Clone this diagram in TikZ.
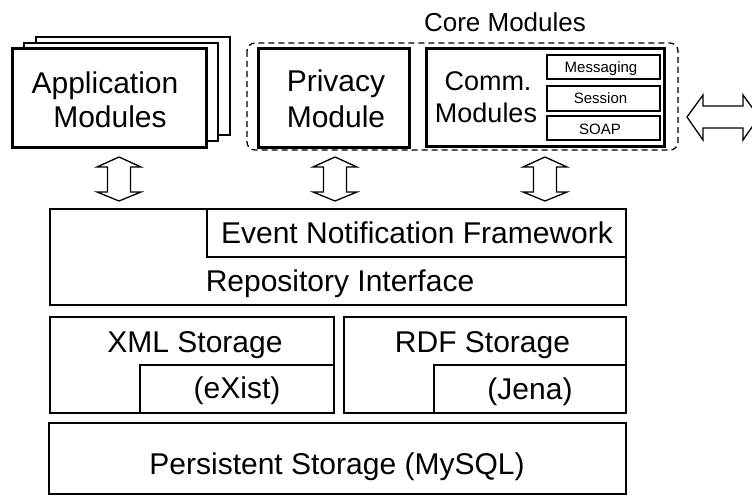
\documentclass[tikz,border=0pt]{standalone}
\usepackage{fontspec}
\setmainfont{Liberation Sans}
\begin{document}
\begin{tikzpicture}[x=1pt,y=-1pt,
  thickbox/.style={draw=black,line width=3pt,fill=white,rectangle,inner sep=0pt,outer sep=0pt},
  sheet/.style={draw=black,line width=2pt,fill=white,rectangle,inner sep=0pt,outer sep=0pt},
  midbox/.style={draw=black,line width=2.6pt,fill=white,rectangle,inner sep=0pt,outer sep=0pt},
  subbox/.style={draw=black,line width=1.6pt,fill=white,rectangle,inner sep=0pt,outer sep=0pt},
  group/.style={draw=black,line width=1.3pt,dash pattern=on 6pt off 4pt,rounded corners=8pt},
  bigtxt/.style={font=\fontsize{30}{36}\selectfont,anchor=base,inner sep=0pt},
  medtxt/.style={font=\fontsize{27}{32}\selectfont,anchor=base,inner sep=0pt},
  coretxt/.style={font=\fontsize{26}{31}\selectfont,anchor=base,inner sep=0pt},
  smalltxt/.style={font=\fontsize{15}{18}\selectfont,anchor=base,inner sep=0pt},
  dblarrow/.style={draw=black,line width=1.3pt,fill=white,line join=miter}]
\clip (0,0) rectangle (752,495);
\useasboundingbox (0,0) rectangle (752,495);

% Application modules stack
\node[sheet,minimum width=194pt,minimum height=98pt] (sheetB) at (133,86) {};
\node[sheet,minimum width=194pt,minimum height=98pt] (sheetA) at (121,92) {};
\node[thickbox,minimum width=194pt,minimum height=98pt] (app) at (109,98) {};
\node[bigtxt] (appt1) at (105,93) {Application};
\node[bigtxt] (appt2) at (110,127) {Modules};

% Core modules group
\draw[group] (247,43) rectangle (678,150);
\node[coretxt] (coret) at (505,32) {Core Modules};

\node[thickbox,minimum width=151pt,minimum height=98pt] (priv) at (333.5,98) {};
\node[bigtxt] (privt1) at (336,92) {Privacy};
\node[bigtxt] (privt2) at (336,127) {Module};

\node[thickbox,minimum width=238pt,minimum height=97pt] (comm) at (545,97.5) {};
\node[medtxt] (commt1) at (488,90) {Comm.};
\node[medtxt] (commt2) at (486,122) {Modules};
\node[subbox,minimum width=113pt,minimum height=24pt] (msg) at (603.5,67) {};
\node[subbox,minimum width=113pt,minimum height=25pt] (sess) at (603.5,98.5) {};
\node[subbox,minimum width=113pt,minimum height=24pt] (soap) at (603.5,128) {};
\node[smalltxt] (msgt) at (601,73) {Messaging};
\node[smalltxt] (sesst) at (600.5,103) {Session};
\node[smalltxt] (soapt) at (600,134) {SOAP};

% Repository interface
\node[midbox,minimum width=576pt,minimum height=96pt] (repo) at (338,257) {};
\node[midbox,minimum width=419pt,minimum height=48pt] (event) at (416.5,233) {};
\node[bigtxt] (eventt) at (417,243) {Event Notification Framework};
\node[bigtxt] (repot) at (340,291) {Repository Interface};

% Storage
\node[midbox,minimum width=284pt,minimum height=96pt] (xml) at (192,365) {};
\node[midbox,minimum width=194pt,minimum height=48pt] (exist) at (237,389) {};
\node[bigtxt] (xmlt) at (195,352) {XML Storage};
\node[bigtxt] (existt) at (237,398) {(eXist)};

\node[midbox,minimum width=282pt,minimum height=96pt] (rdf) at (485,365) {};
\node[midbox,minimum width=192pt,minimum height=48pt] (jena) at (530,389) {};
\node[bigtxt] (rdft) at (482.5,352) {RDF Storage};
\node[bigtxt] (jenat) at (530,399) {(Jena)};

\node[midbox,minimum width=577pt,minimum height=71pt] (pers) at (337.5,458.5) {};
\node[bigtxt] (perst) at (337,474) {Persistent Storage (MySQL)};

% vertical double arrows
\foreach \cx/\nm in {119/a1,335/a2,545/a3}{
  \draw[dblarrow] (\cx,157) -- (\cx+22,167) -- (\cx+11.5,167) -- (\cx+11.5,192)
    -- (\cx+22,192) -- (\cx,201) -- (\cx-22,192) -- (\cx-11.5,192)
    -- (\cx-11.5,167) -- (\cx-22,167) -- cycle;
}
% horizontal double arrow to the outside
\draw[dblarrow] (687,117) -- (703,95) -- (703,106) -- (743,106) -- (743,95)
  -- (759,117) -- (743,140) -- (743,128) -- (703,128) -- (703,140) -- cycle;
\end{tikzpicture}
\end{document}
